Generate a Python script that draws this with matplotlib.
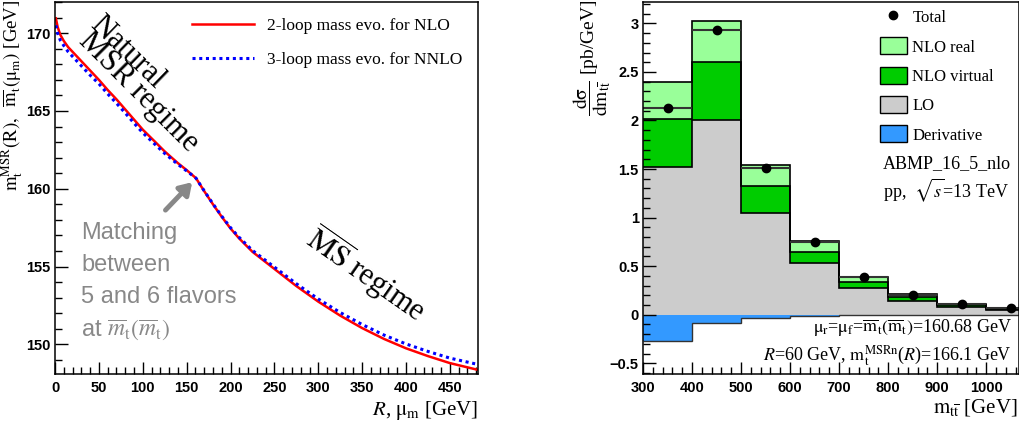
import matplotlib
matplotlib.use("Agg")
import matplotlib.pyplot as plt
import numpy as np
from matplotlib.lines import Line2D
from matplotlib.patches import Patch
from matplotlib.ticker import MultipleLocator
from matplotlib.font_manager import FontProperties

plt.rcParams['font.family'] = ['Liberation Serif', 'DejaVu Serif']
plt.rcParams['mathtext.fontset'] = 'stix'

# ---- left panel data: mass evolution ----
R_nlo = [1, 3, 6, 10, 15, 20, 30, 40, 50, 60, 70, 80, 90, 100, 114, 125, 140, 150, 160.68,
         170, 180, 190, 200, 210, 225, 250, 275, 300, 325, 350, 375, 400, 425, 450, 483]
m_nlo = [170.95, 170.4, 169.9, 169.5, 169.1, 168.8, 168.2, 167.6, 167.0, 166.35, 165.75,
         165.1, 164.45, 163.8, 163.02, 162.4, 161.65, 161.2, 160.68,
         159.85, 159.0, 158.2, 157.45, 156.8, 155.95, 154.85, 153.75, 152.75, 151.85,
         151.05, 150.35, 149.75, 149.25, 148.8, 148.35]
m_nnlo = [170.5, 170.0, 169.55, 169.2, 168.8, 168.5, 167.9, 167.3, 166.75, 166.1, 165.5,
          164.87, 164.22, 163.6, 162.85, 162.27, 161.57, 161.15, 160.68,
          159.87, 159.03, 158.24, 157.5, 156.87, 156.04, 154.97, 153.9, 152.92, 152.05,
          151.28, 150.6, 150.03, 149.55, 149.12, 148.7]
R_match = 160.68
m_match = 160.68

# ---- right panel data: m_ttbar distribution ----
edges = [300, 400, 500, 600, 700, 800, 900, 1000, 1100]
lo = [1.52, 2.00, 1.05, 0.53, 0.275, 0.145, 0.083, 0.048]
nlo_virtual = [0.50, 0.60, 0.28, 0.12, 0.06, 0.035, 0.017, 0.010]
nlo_real = [0.38, 0.42, 0.21, 0.11, 0.055, 0.03, 0.015, 0.01]
derivative = [-0.27, -0.09, -0.03, -0.01, -0.005, -0.003, -0.002, -0.001]

lo = np.array(lo)
virt_top = lo + np.array(nlo_virtual)
real_top = virt_top + np.array(nlo_real)
total = real_top + np.array(derivative)
centers = 0.5 * (np.array(edges[:-1]) + np.array(edges[1:]))

W, H = 1020, 426
fig = plt.figure(figsize=(W / 100, H / 100), dpi=100)


def fx(x):
    return x / W


def fy(y):
    return 1 - y / H


tickfont = FontProperties(family='Liberation Sans', weight='bold', size=10.5)

# ================= left panel =================
ax1 = fig.add_axes([fx(55), fy(374), fx(478) - fx(55), fy(2) - fy(374)])
ax1.plot(R_nlo, m_nlo, color='#ff0000', lw=1.8, label='2-loop mass evo. for NLO')
ax1.plot(R_nlo, m_nnlo, color='#0000ff', lw=2.2, ls=(0, (1, 1.2)),
         label='3-loop mass evo. for NNLO')
ax1.set_xlim(0, 482)
ax1.set_ylim(148.1, 172.0)
ax1.xaxis.set_major_locator(MultipleLocator(50))
ax1.xaxis.set_minor_locator(MultipleLocator(10))
ax1.yaxis.set_major_locator(MultipleLocator(5))
ax1.yaxis.set_minor_locator(MultipleLocator(1))

ax1.legend(loc='upper left', frameon=False, fontsize=12.5, handlelength=3.6,
           handletextpad=0.75, labelspacing=1.05, borderpad=0,
           bbox_to_anchor=((183 - 55) / 423, 1 - (9 - 2) / 372))

fig.text(fx(127), fy(52), 'Natural', fontsize=22, rotation=-44, ha='center', va='center',
         rotation_mode='anchor')
fig.text(fx(139), fy(92), 'MSR regime', fontsize=22, rotation=-45, ha='center', va='center',
         rotation_mode='anchor')
fig.text(fx(366), fy(275), r'$\overline{\mathrm{MS}}$ regime', fontsize=22, rotation=-35,
         ha='center', va='center', rotation_mode='anchor')

gray = '#888888'
for i, line in enumerate(['Matching', 'between', '5 and 6 flavors']):
    fig.text(fx(81), fy(233 + 32 * i), line, color=gray, fontsize=17,
             family='Liberation Sans', ha='left', va='center')
fig.text(fx(81), fy(330), r'at $\overline{m}_\mathrm{t}(\overline{m}_\mathrm{t})$', color=gray,
         fontsize=17, family='Liberation Sans', ha='left', va='center')

ax1.annotate('', xy=(R_match, m_match), xytext=(-22, -23), textcoords='offset points',
             arrowprops=dict(arrowstyle='-|>,head_length=0.7,head_width=0.45', color=gray,
                             lw=3.5, shrinkA=0, shrinkB=4))

fig.text(fx(12), fy(0), r'$\mathrm{m_t^{MSR}(R),\ \ \overline{m}_t(\mu_m)}$ [GeV]', rotation=90,
         ha='center', va='top', fontsize=13.5)
fig.text(fx(478), fy(410), r'$R$, $\mathrm{\mu_m}$ [GeV]', ha='right', va='center', fontsize=15)

# ================= right panel =================
ax2 = fig.add_axes([fx(643), fy(374), fx(1019) - fx(643), fy(2) - fy(374)])
ax2.stairs(real_top, edges, baseline=0, fill=True, color='#99ff99')
ax2.stairs(virt_top, edges, baseline=0, fill=True, color='#00cc00')
ax2.stairs(lo, edges, baseline=0, fill=True, color='#cccccc')
ax2.stairs(derivative, edges, baseline=0, fill=True, color='#3399ff')
for vals in (real_top, virt_top, lo):
    ax2.stairs(vals, edges, baseline=None, color='black', lw=1.2)
ax2.stairs(derivative, edges, baseline=None, color='#333333', lw=1.0)
ax2.hlines(total, edges[:-1], edges[1:], color='#333333', lw=1.5)
ax2.plot(centers, total, 'o', color='black', ms=6)

ax2.set_xlim(300, 1067)
ax2.set_ylim(-0.61, 3.22)
ax2.xaxis.set_major_locator(MultipleLocator(100))
ax2.xaxis.set_minor_locator(MultipleLocator(20))
ax2.yaxis.set_minor_locator(MultipleLocator(0.1))
ax2.set_yticks([-0.5, 0, 0.5, 1, 1.5, 2, 2.5, 3])
ax2.set_yticklabels(['\u22120.5', '0', '0.5', '1', '1.5', '2', '2.5', '3'])

handles = [Line2D([], [], marker='o', color='black', ls='none', ms=6),
           Patch(facecolor='#99ff99', edgecolor='black', lw=1),
           Patch(facecolor='#00cc00', edgecolor='black', lw=1),
           Patch(facecolor='#cccccc', edgecolor='black', lw=1),
           Patch(facecolor='#3399ff', edgecolor='black', lw=1)]
labels = ['Total', 'NLO real', 'NLO virtual', 'LO', 'Derivative']
ax2.legend(handles, labels, loc='upper left',
           bbox_to_anchor=((880 - 643) / 376, 1 - (8 - 2) / 372), frameon=False,
           fontsize=12, handlelength=1.6, handleheight=1.2, labelspacing=0.67,
           handletextpad=0.35, borderpad=0, borderaxespad=0)

fig.text(fx(1011), fy(164), 'ABMP_16_5_nlo', ha='right', va='center', fontsize=13)
fig.text(fx(1009), fy(190), r'pp,  $\sqrt{s}$=13 TeV', ha='right', va='center', fontsize=13)
fig.text(fx(1012), fy(328),
         r'$\mathrm{\mu_r}$=$\mathrm{\mu_f}$=$\mathrm{\overline{m}_t(\overline{m}_t)}$=160.68 GeV',
         ha='right', va='center', fontsize=13)
fig.text(fx(1012), fy(356), r'$R$=60 GeV, $\mathrm{m_t^{MSRn}}$($R$)=166.1 GeV',
         ha='right', va='center', fontsize=13)

fig.text(fx(592), fy(0), r'$\dfrac{\mathrm{d\sigma}}{\mathrm{dm_{t\overline{t}}}}$ [pb/GeV]',
         rotation=90, ha='center', va='top', fontsize=14)
fig.text(fx(1018), fy(408), r'$\mathrm{m_{t\overline{t}}}$ [GeV]', ha='right', va='center',
         fontsize=15)

for ax in (ax1, ax2):
    ax.tick_params(which='both', direction='in', top=False, right=False, pad=3)
    ax.tick_params(which='major', length=9, width=1)
    ax.tick_params(which='minor', length=5, width=1)
    for lab in ax.get_xticklabels() + ax.get_yticklabels():
        lab.set_fontproperties(tickfont)
    for sp in ax.spines.values():
        sp.set_linewidth(1.1)
ax1.tick_params(axis='x', pad=5)
ax2.tick_params(axis='x', pad=5)

fig.savefig('out.png', dpi=100)
